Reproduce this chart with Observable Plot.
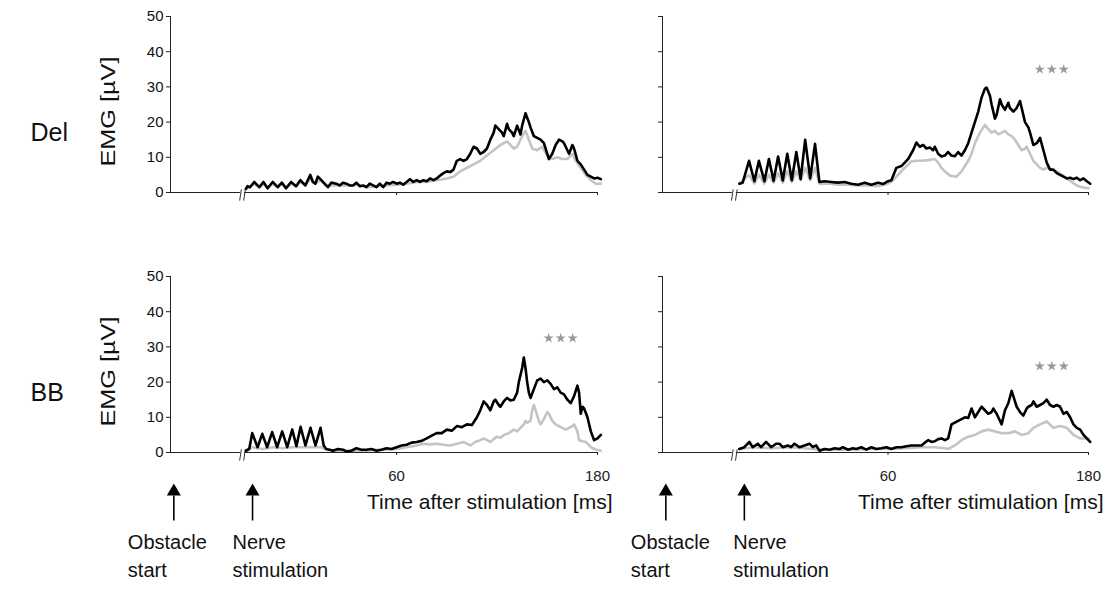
<!DOCTYPE html>
<html><head><meta charset="utf-8">
<script src="https://cdn.jsdelivr.net/npm/d3@7"></script>
<script src="https://cdn.jsdelivr.net/npm/@observablehq/plot@0.6"></script>
<style>
body{margin:0;background:#fff;}
#chart{display:flex;flex-wrap:wrap;width:1113px;}
#chart svg{display:block;}
</style></head><body><div id="chart"></div>
<script>
// ---------- data ----------
const rowLabels = ["Del", "BB"];
const yLabel = "EMG [µV]";
const xLabel = "Time after stimulation [ms]";
const yTicks = [0, 10, 20, 30, 40, 50];
const xTicks = [60, 180];
const xStart = -75;      // obstacle start (axis origin)
const breakAt = -32;     // axis break
const events = [
  {t: -73, label: "Obstacle\nstart"},
  {t: -26, label: "Nerve\nstimulation"}
];

// [time (ms), EMG (µV)] pairs
const delLeftBlack = [[-30,1],[-29,1.8],[-27.5,1.5],[-25,3],[-22,1.5],[-19.5,3],[-17,1.2],[-14,3],[-11,1.5],[-8.5,2.8],[-6,1.2],[-3,3],[0,1.8],[2.5,3.5],[5.5,2],[8.5,5],[10,3],[11.5,2.5],[13,4.5],[14.5,3.8],[17,2.5],[19,1.5],[21,2.8],[24,2.5],[26,2],[28,2.8],[30,2.5],[32,2],[34,2],[36,2.8],[38,1.8],[40,2],[42,1.5],[44,2.5],[46,2],[48,1.5],[50,2.5],[52,1.5],[54,2.8],[56,2.5],[58,3],[60,2.5],[62,2.8],[64,2.2],[66,3],[68,3.8],[70,3],[72,3.5],[74,3],[76,3.5],[78,3.2],[80,4],[82,3.5],[84,4],[86,4.8],[88,5.5],[90,6],[92,5.8],[94,6.5],[96,9],[98,9.5],[100,9],[102,9.5],[104,11],[106,13],[108,12.5],[110,11],[112,11.5],[114,12.5],[116,15],[118,17],[119,19],[121,18],[123,17],[124,16],[126,19.5],[127,18],[129,17],[130,16],[132,19],[134,16.5],[135,19],[137,22.5],[139,20],[140,18.5],[142,16],[144,15.5],[146,15],[148,14],[150,11],[151,9.5],[153,11],[155,13.5],[157,15],[159,14.5],[160,14],[162,12],[163,11],[165,13.5],[166,12.5],[168,9],[170,8],[172,6.5],[174,5],[176,4.5],[178,4],[180,4.2],[182,3.8]];
const delLeftGray = [[-30,1],[-25,2.5],[-22,1.5],[-19.5,2.5],[-17,1.2],[-14,2.5],[-11,1.5],[-8.5,2.5],[-6,1.2],[-3,2.5],[0,1.8],[2.5,3],[5.5,2],[8.5,4],[11.5,2.5],[14.5,3.5],[18,2],[24,2],[30,2],[36,2.2],[42,1.5],[48,1.8],[54,2],[60,2.2],[66,2.5],[72,3],[78,3],[84,3.5],[90,4],[94,4.5],[98,6],[102,7],[106,8],[110,9],[114,10.5],[118,12],[122,13.5],[126,14.5],[130,12.5],[132,13],[135,16],[137,17.5],[139,15],[141,12.5],[144,12],[147,13],[150,10.5],[153,9.5],[156,10],[159,9.5],[162,9.5],[165,11],[167,9],[170,7],[173,5],[176,3.5],[179,2.5],[182,2.5]];
const delRightBlack = [[-29,2.5],[-27,2.8],[-23.2,9],[-20,3.2],[-17.3,9],[-14,3.2],[-11.3,9.5],[-8.5,3.3],[-5.8,10.2],[-3,3.4],[-0.3,11],[2.4,3.5],[5.1,11.5],[7.7,3.8],[10.4,15],[13.4,4],[16.3,13.8],[18.9,3],[22,3.2],[26,3],[30,2.8],[34,3],[38,2.5],[42,2.2],[46,2.8],[50,2.2],[54,2.8],[57,2.4],[60,3.2],[62,3.5],[65,7],[68,7.5],[70,8.5],[72,9.5],[75,12],[77,14.2],[79,13],[81,13.5],[83,12.5],[85,12.8],[87,12],[88,13],[90,11],[92,10.2],[94,10.5],[96,11.5],[98,10.5],[100,10.3],[102,11.5],[104,10.5],[106,12],[108,14],[110,17],[112,20],[114,23],[116,27],[118,29.5],[119,29.8],[121,27.5],[122,25],[124,21],[125,22],[127,26.5],[128,25],[130,23.5],[132,25.5],[133,24],[135,23],[137,24],[139,26],[140,24],[142,20],[144,18.5],[145,17],[147,13.5],[149,14],[151,15.5],[153,12],[155,8.5],[157,6.5],[159,6.5],[161,5.5],[163,5],[165,4.5],[167,4],[169,4.2],[171,3.8],[173,4.2],[175,3.5],[177,4],[179,3.2],[181,2.5]];
const delRightGray = [[-29,2.5],[-23.2,5],[-20,2.5],[-17.3,5],[-14,2.5],[-11.3,5],[-8.5,2.8],[-5.8,5.5],[-3,2.8],[-0.3,6],[2.4,3],[5.1,6],[7.7,3.5],[10.4,7],[13.4,3.5],[16.3,7],[19,2.5],[25,2.5],[30,2.2],[36,2.2],[42,2],[48,2],[54,1.8],[60,2.5],[62,3],[65,4.5],[68,6],[71,7.5],[74,8.8],[77,9],[80,9],[84,9.2],[88,9.5],[90,8.5],[92,7],[94,6],[97,4.8],[101,4.5],[104,6],[106,7.5],[108,9],[110,11],[112,14],[115,17],[118,19.2],[120,18],[122,17],[124,17.5],[126,16.5],[128,17],[130,17.5],[132,16.5],[134,16],[136,15],[138,13.5],[140,12],[142,12.5],[143,13],[145,11],[147,9],[149,8],[151,7],[153,6.5],[155,7],[158,6.5],[161,6],[164,5],[167,4],[170,3],[173,2],[176,1.5],[180,1.2]];
const bbLeftBlack = [[-30,0.5],[-28,1],[-26.2,5.5],[-23,1.5],[-20.2,5.3],[-17.3,1.5],[-14.3,5.8],[-11.3,1.5],[-8.3,6],[-5.3,1.5],[-2.3,6.5],[0.2,1.8],[2.7,7.3],[5.6,2],[8.6,7],[11.6,2],[14.6,7],[16.5,2],[18,1],[20,0.8],[22,0.5],[25,1],[28,0.8],[30,0.3],[33,0.5],[36,1.2],[39,0.8],[42,0.8],[45,1],[48,0.5],[51,0.8],[54,1.2],[57,1],[60,1.5],[63,2],[66,2.2],[69,2.8],[72,3],[75,3.3],[78,4],[81,4.8],[84,5.5],[87,5.5],[90,6.5],[93,6.2],[96,7.5],[99,7.2],[102,8],[105,7.8],[108,10],[110,12],[112,14.5],[114,13.5],[116,12],[118,14.5],[119,15],[121,13.5],[122,13],[124,14.5],[126,15.5],[128,14.8],[130,15],[132,17],[133,20],[135,24],[136,27],[137,24],[138,20],[139,17],[140,15.5],[142,18],[144,20.5],[146,21],[148,20],[150,20.5],[152,19.5],[154,18],[156,18.5],[158,17],[160,16.5],[162,15],[164,14],[166,16],[168,19],[169,17],[170,11],[171,13],[172,12.5],[174,10],[176,6],[178,3.5],[180,4],[182,5]];
const bbLeftGray = [[-30,0.5],[-26,1.5],[-20,1],[-14,1.5],[-8,1.2],[-2,1.5],[3,1.5],[9,1.5],[15,1.5],[18,0.8],[24,0.5],[30,0.5],[36,0.5],[42,0.5],[48,0.8],[54,0.8],[60,1],[66,1.5],[72,2],[76,2.5],[80,2.3],[84,2.5],[88,2.2],[92,2],[96,2.5],[100,3],[102,2.5],[104,2],[107,3],[110,3.5],[112,4],[114,3.5],[116,3],[118,3.8],[120,4.5],[122,4.2],[124,5],[127,5.5],[130,6.5],[132,6],[134,7],[136,8],[137,9],[138,8.5],[140,9],[141,12],[142,13.5],[143,12],[145,9],[146,8],[148,9.5],[150,11.5],[151,11],[153,9],[155,8],[157,7.5],[159,7],[161,6.5],[163,7],[165,7.5],[166,8],[168,6],[169,3.5],[171,3.2],[173,3],[176,1.5],[179,0.8],[182,0.5]];
const bbRightBlack = [[-29,1],[-26,1.5],[-23,3],[-21,1.5],[-18,2.5],[-16,1.5],[-13,3],[-10,1.5],[-7,2.5],[-5,2.5],[-3,1.5],[0,2],[2,1.5],[4,2.5],[7,1.5],[10,2],[13,2.5],[15,1.5],[17,2],[19,0.5],[22,1],[25,0.8],[28,1.2],[31,1],[33,1.5],[36,0.8],[39,1.2],[41,1],[44,1.5],[47,0.8],[50,1.5],[53,1],[56,1.2],[59,1.5],[62,1],[65,1.5],[68,1.5],[71,1.8],[74,2],[77,2],[80,2],[82,2.8],[84,3.5],[86,3],[88,3.2],[90,3.8],[92,4],[94,3.5],[96,4],[98,8],[100,8.5],[102,9],[104,9.5],[106,10],[108,9.8],[110,12.5],[112,10],[114,11.5],[116,13],[118,12],[120,11],[122,11.5],[123,12.5],[125,11],[126,10],[128,8],[130,12],[132,14],[134,17.5],[135,16],[137,13],[139,11.5],[141,10.5],[143,12.5],[144,13],[146,13.5],[147,14.5],[149,13],[151,13.5],[153,14],[155,15],[157,13.5],[159,13],[161,13.5],[163,13],[165,11],[167,11.5],[169,10],[171,8],[173,7],[175,6.5],[177,5],[179,4],[181,3]];
const bbRightGray = [[-29,1],[-20,1.5],[-10,1.2],[0,1.5],[10,1.2],[19,0.8],[30,0.8],[40,0.8],[50,1],[60,1],[70,1.2],[80,1.5],[88,1.5],[94,1.2],[96,1],[100,2],[104,3.5],[108,4.5],[112,5],[116,6],[120,6.5],[124,6],[128,5.5],[132,5.5],[136,6],[140,5],[144,5.5],[147,7],[151,8],[155,8.8],[159,7],[163,7.5],[167,7],[171,5],[175,4],[180,4]];
// significance markers (time, level); null = none
const sigDelLeft = null;
const sigDelRight = {t: 158, v: 35};
const sigBBLeft = {t: 158, v: 32.5};
const sigBBRight = {t: 158, v: 24.5};

// ---------- drawing ----------
const FONT = "'Liberation Sans', Arial, Helvetica, sans-serif";
const PX_PER_UNIT = 176 / 50;

function panel({black, gray, sig, row, side}) {
  const left = side === "left";
  const bottom = row === 1;
  const width = left ? 620 : 493;
  const marginLeft = left ? 170 : 42;
  const marginRight = left ? 23 : 25;
  const height = bottom ? 332 : 260;
  const marginTop = 16;
  const marginBottom = height - marginTop - 176;
  const u = px => -px / PX_PER_UNIT; // pixels below the axis -> y units
  const marks = [
    Plot.ruleX([xStart], {y1: 0, y2: 50, stroke: "#222", strokeWidth: 1}),
    Plot.axisY({ticks: yTicks, tickSize: 4, tickPadding: 3, fontSize: 15, stroke: "#222", fill: "#111",
      tickFormat: left ? d => String(d) : () => "", label: null}),
    Plot.ruleY([0], {x1: xStart, x2: breakAt - 1.2, stroke: "#222"}),
    Plot.ruleY([0], {x1: breakAt + 1.2, x2: 180, stroke: "#222"}),
    Plot.link([breakAt - 1.2, breakAt + 1.2], {x1: d => d - 0.5, x2: d => d + 0.5, y1: -2.3, y2: 0.9, stroke: "#333", strokeWidth: 1}),
    Plot.axisX({ticks: xTicks, tickSize: 3, tickPadding: 15, fontSize: 15, stroke: "#222", fill: "#222",
      tickFormat: bottom ? d => String(d) : () => "", label: null}),
    Plot.line(gray, {x: d => d[0], y: d => d[1], stroke: "#c4c4c4", strokeWidth: 2.6}),
    Plot.line(black, {x: d => d[0], y: d => d[1], stroke: "#000", strokeWidth: 2.6})
  ];
  if (sig) {
    for (const dx of [-12, 0, 12]) {
      marks.push(Plot.dot([sig], {x: "t", y: "v", dx, symbol: "star", r: 3.2, fill: "#999", stroke: "none"}));
    }
  }
  if (left) {
    marks.push(Plot.text([rowLabels[row]], {x: xStart, y: 17, dx: -140, textAnchor: "start", fontSize: 25, fill: "#111"}));
    marks.push(Plot.text([yLabel], {x: xStart, y: 23, dx: -62, rotate: -90, fontSize: 20, fill: "#111"}));
  }
  if (bottom) {
    const lblDx = left ? [-46, -20] : [-35, -11];
    marks.push(Plot.text([xLabel], {x: 180, y: 0, dx: 15, dy: 50, textAnchor: "end", fontSize: 21, fill: "#111"}));
    marks.push(Plot.link(events, {x1: "t", x2: "t", y1: u(43), y2: u(68), stroke: "#000", strokeWidth: 1.6}));
    marks.push(Plot.dot(events, {x: "t", y: u(39), symbol: "triangle", r: 5.2, fill: "#000", stroke: "none"}));
    events.forEach((ev, i) => {
      marks.push(Plot.text([ev], {x: "t", y: 0, dy: 76, dx: lblDx[i], text: "label",
        textAnchor: "start", lineAnchor: "top", lineHeight: 1.43, fontSize: 20, fill: "#111"}));
    });
  }
  const svg = Plot.plot({
    width, height, marginLeft, marginRight, marginTop, marginBottom,
    x: {domain: [xStart, 180], axis: null},
    y: {domain: [0, 50], axis: null},
    style: {fontFamily: FONT, background: "white", overflow: "visible"},
    marks
  });
  // the figure's y label is drawn slightly stretched along its length
  svg.querySelectorAll("text").forEach(t => {
    if (t.textContent === yLabel) {
      t.setAttribute("textLength", 110);
      t.setAttribute("lengthAdjust", "spacingAndGlyphs");
    }
  });
  return svg;
}

const chart = document.getElementById("chart");
chart.append(
  panel({black: delLeftBlack, gray: delLeftGray, sig: sigDelLeft, row: 0, side: "left"}),
  panel({black: delRightBlack, gray: delRightGray, sig: sigDelRight, row: 0, side: "right"}),
  panel({black: bbLeftBlack, gray: bbLeftGray, sig: sigBBLeft, row: 1, side: "left"}),
  panel({black: bbRightBlack, gray: bbRightGray, sig: sigBBRight, row: 1, side: "right"})
);
</script></body></html>
